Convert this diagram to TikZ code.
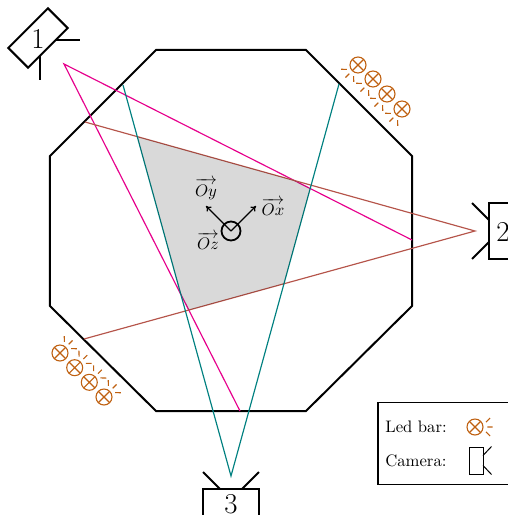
\documentclass[tikz,border=0pt]{standalone}
\usepackage{amsmath}
\usetikzlibrary{arrows.meta}

\definecolor{ledcol}{RGB}{191,96,16}
\definecolor{raymag}{RGB}{230,0,140}
\definecolor{raybrown}{RGB}{181,84,74}
\definecolor{rayteal}{RGB}{0,128,128}

\tikzset{
  pics/ledbulb/.style={code={
    \draw[ledcol, line width=.65pt] (0,0) circle (8);
    \draw[ledcol, line width=.65pt] (-5.7,-5.7) -- (5.7,5.7) (-5.7,5.7) -- (5.7,-5.7);
    \draw[ledcol, line width=.65pt, rotate=#1] (12.3,0) -- (17.7,0) (11,4.8) -- (15,9) (11,-4.8) -- (15,-9);
  }}
}

\begin{document}
\begin{tikzpicture}[x=.6pt, y=.6pt, >={To[length=3pt,width=4pt]}]
        \tikzstyle{camera}=[draw,shape=rectangle,line width=1.2pt,minimum width=33.6pt,minimum height=16.8pt,inner sep=0pt,outer sep=0pt]
        \tikzstyle{lens}=[line width=1.2pt]
        \tikzstyle{num}=[inner sep=0pt,font=\LARGE]
        \tikzstyle{axis}=[->,line width=.65pt]
        \tikzstyle{fov}=[line width=.7pt]

        \useasboundingbox (-231,231) rectangle (277,-284);

        % room
        \draw[line width=1.2pt] (-75,181) -- (75,181) -- (181,75) -- (181,-75)
        -- (75,-180) -- (-75,-180) -- (-181,-75) -- (-181,75) -- cycle;

        % view cones
        \coordinate (m1) at (-167,167);
        \coordinate (m2) at (181,-9);
        \coordinate (m3) at (9,-180);
        \coordinate (b1) at (244,0);
        \coordinate (b2) at (-146,109);
        \coordinate (b3) at (-147,-108);
        \coordinate (t1) at (0,-245);
        \coordinate (t2) at (-108,146);
        \coordinate (t3) at (108,147);

        \draw[fov, raymag] (m2) -- (m1) -- (m3);
        \draw[fov, raybrown] (b2) -- (b1) -- (b3);
        \draw[fov, rayteal] (t2) -- (t1) -- (t3);

        % cameras
        \foreach \nam/\x/\y/\ang in {cam1/-193/193/-135, cam2/272/0/90, cam3/0/-272/0}{
          \begin{scope}[shift={(\x,\y)}, rotate=\ang]
            \node[camera, transform shape](\nam) at (0,0){};
            \draw[lens] (\nam.north) ++(-11,0) -- ++(-17,17);
            \draw[lens] (\nam.north) ++(11,0) -- ++(17,17);
          \end{scope}
        }
        \node[num](n1) at (-193,192){1};
        \node[num](n2) at (272,-1){2};
        \node[num](n3) at (0,-273){3};

        % led bars
        \foreach \x/\y in {127/166, 142/152, 156/137, 171/122}{
          \pic at (\x,\y) {ledbulb=225};
        }
        \foreach \x/\y in {-171/-122, -156.3/-136.7, -141.7/-151.3, -127/-166}{
          \pic at (\x,\y) {ledbulb=45};
        }

        % frame
        \node[draw, shape=circle, line width=1.1pt, minimum size=11.4pt, inner sep=0pt](origin) at (0,0){};
        \coordinate (ox) at (25,25);
        \coordinate (oy) at (-25,25);
        \draw[axis] (origin.center) -- (ox);
        \draw[axis] (origin.center) -- (oy);
        \node[inner sep=0pt](oxl) at (42,24){$\overrightarrow{Ox}$};
        \node[inner sep=0pt](oyl) at (-25,42){$\overrightarrow{Oy}$};
        \node[inner sep=0pt](ozl) at (-23,-10){$\overrightarrow{Oz}$};

        % seen by the three cameras
        \begin{scope}
          \clip (m1) -- (m2) -- (m3) -- cycle;
          \clip (t1) -- (t2) -- (t3) -- cycle;
          \fill[black, opacity=.15] (b1) -- (b2) -- (b3) -- cycle;
        \end{scope}

        % legend
        \node[draw, line width=.8pt, minimum width=79.8pt, minimum height=49.2pt, inner sep=0pt, outer sep=0pt](legend) at (213.5,-212.5){};
        \node[anchor=west, inner sep=0pt](ledtxt) at (154,-196){Led bar:};
        \node[anchor=west, inner sep=0pt](camtxt) at (154,-230){Camera:};
        \pic at (244,-196) {ledbulb=0};
        \node[draw, line width=.6pt, minimum width=8.4pt, minimum height=16.2pt, inner sep=0pt, outer sep=0pt](camicon) at (245,-229.5){};
        \draw[line width=.6pt] (camicon.east) ++(0,5) -- ++(8.5,9);
        \draw[line width=.6pt] (camicon.east) ++(0,-5) -- ++(8.5,-9);

        \end{tikzpicture}
\end{document}
